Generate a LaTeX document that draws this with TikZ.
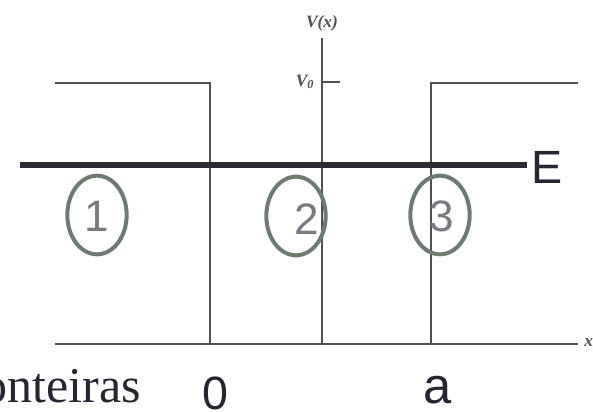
\documentclass[tikz,border=0pt]{standalone}
\usepackage{fontspec}
\setmainfont{Liberation Serif}
\newfontfamily\arialf{Liberation Sans}
\usetikzlibrary{shapes.geometric}
\definecolor{stepc}{HTML}{505050}
\definecolor{elinec}{HTML}{2B2B35}
\definecolor{ringc}{HTML}{6E7B70}
\definecolor{digc}{HTML}{7A7A82}
\definecolor{txtc}{HTML}{262633}
\begin{document}
\begin{tikzpicture}[x=0.75pt,y=-0.75pt,
  stepline/.style={draw=stepc, line width=1.8pt},
  axisline/.style={draw=stepc, line width=1.3pt},
  energy/.style={draw=elinec, line width=5.2pt},
  ring/.style={ellipse, draw=ringc, line width=3pt, minimum width=44.5pt, minimum height=59pt, inner sep=0pt},
  digit/.style={font=\arialf\fontsize{33}{36}\selectfont, text=digc, inner sep=0pt, anchor=base},
  bigsans/.style={font=\arialf\fontsize{35}{40}\selectfont, text=txtc, inner sep=0pt, anchor=base, text depth=0pt},
  small/.style={font=\bfseries\itshape\fontsize{13}{15}\selectfont, text=stepc, inner sep=0pt}]
\useasboundingbox (0,0) rectangle (593,411);
\fill[white] (0,0) rectangle (593,411);
% potential
\coordinate (l0) at (55,83);
\coordinate (l1) at (210,83);
\coordinate (l2) at (210,344);
\coordinate (r0) at (578,83);
\coordinate (r1) at (431,83);
\coordinate (r2) at (431,344);
\coordinate (b0) at (55,344);
\coordinate (b1) at (578,344);
\coordinate (ya) at (322,38);
\coordinate (yb) at (322,344);
\coordinate (t0) at (322,82);
\coordinate (t1) at (340,82);
\draw[stepline] (l0) -- (l1) -- (l2);
\draw[stepline] (r0) -- (r1) -- (r2);
\draw[axisline] (b0) -- (b1);
\draw[axisline] (ya) -- (yb);
\draw[axisline] (t0) -- (t1);
\node[small] (vx) at (322,23) {V(x)};
\node[small] (v0) at (305,82) {V\textsubscript{0}};
\node[small, anchor=west] (xl) at (584,343) {x};
% energy
\coordinate (eL) at (20,165);
\coordinate (eR) at (527,165);
\draw[energy] (eL) -- (eR);
\node[bigsans] (E) at (547,183) {E};
% regions
\node[ring] (e1) at (97,215) {};
\node[ring] (e2) at (296,216) {};
\node[ring] (e3) at (440,215) {};
\node[digit] (d1) at (97,231) {1};
\node[digit] (d2) at (307,234) {2};
\node[digit] (d3) at (442,231) {3};
% bottom labels
\node[bigsans] (z) at (215,409) {0};
\node[bigsans, font=\arialf\fontsize{38}{42}\selectfont] (a) at (438,403) {a};
\node[font=\fontsize{37.5}{40}\selectfont, text=txtc, inner sep=0pt, anchor=base east, text depth=0pt] (fr) at (141,402) {onteiras};
\end{tikzpicture}
\end{document}
